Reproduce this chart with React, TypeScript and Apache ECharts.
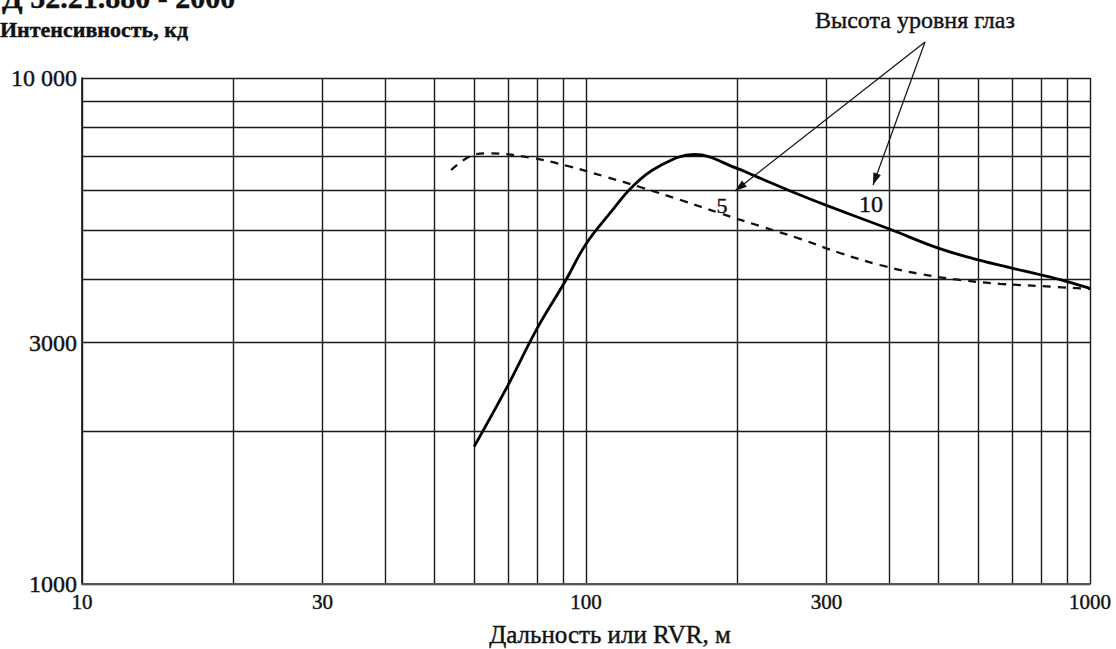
import React, { useEffect, useRef } from "react";
import * as echarts from "echarts";

// Axis ticks and labels (log scales)
const DIST_TICKS = [10, 20, 30, 40, 50, 60, 70, 80, 90, 100, 200, 300, 400, 500, 600, 700, 800, 900, 1000];
const DIST_LABELS = [10, 30, 100, 300, 1000];
const INTENSITY_TICKS = [1000, 2000, 3000, 4000, 5000, 6000, 7000, 8000, 9000, 10000];
const INTENSITY_LABELS = [1000, 3000, 10000];

// Eye height 10 m (solid curve): distance, m / intensity, cd
const EYE10_DIST = [60, 70, 80, 91, 100, 112, 124, 140, 164, 200, 215, 266, 300, 400, 500, 600, 700, 800, 900, 1000];
const EYE10_CD = [1870, 2470, 3200, 3970, 4700, 5430, 6120, 6700, 7060, 6620, 6420, 5870, 5600, 5030, 4610, 4370, 4210, 4080, 3960, 3840];

// Eye height 5 m (dashed curve)
const EYE5_DIST = [54, 59, 64, 78, 92, 110, 128, 154, 184, 221, 266, 319, 383, 460, 552, 663, 796, 1000];
const EYE5_CD = [6580, 7010, 7100, 6950, 6700, 6370, 6090, 5740, 5410, 5100, 4810, 4510, 4270, 4100, 3990, 3920, 3880, 3830];

const DOC_TITLE = "Д 52.21.880 - 2000";
const Y_TITLE = "Интенсивность, кд";
const X_TITLE = "Дальность или RVR, м";
const EYE_TITLE = "Высота уровня глаз";
const CURVE_NAMES = ["5", "10"];

const SERIF = '"Liberation Serif", "Times New Roman", serif';
const INK = "#111";

function arrowHead(ox: number, oy: number, tx: number, ty: number, len: number, half: number) {
  const dx = tx - ox;
  const dy = ty - oy;
  const l = Math.hypot(dx, dy);
  const ux = dx / l;
  const uy = dy / l;
  const bx = tx - ux * len;
  const by = ty - uy * len;
  return [
    [tx, ty],
    [bx - uy * half, by + ux * half],
    [bx + uy * half, by - ux * half],
  ];
}

function label(text: string, x: number, y: number, font: string, align = "left") {
  return {
    type: "text",
    x,
    y,
    z: 10,
    style: {
      text,
      font,
      fill: INK,
      stroke: INK,
      lineWidth: 0.4,
      align,
      verticalAlign: "middle",
    },
  };
}

export default function App() {
  const ref = useRef<HTMLDivElement | null>(null);

  useEffect(() => {
    document.body.style.margin = "0";
    if (!ref.current) return;
    const chart = echarts.init(ref.current, undefined, { renderer: "svg" });

    const origin = [925, 42];
    const tip5 = [735, 191];
    const tip10 = [873, 185];

    const tickLabel = {
      fontFamily: SERIF,
      color: INK,
      textBorderColor: INK,
      textBorderWidth: 0.4,
    };

    chart.setOption({
      animation: false,
      backgroundColor: "#ffffff",
      textStyle: { fontFamily: SERIF },
      grid: { left: 82, right: 26, top: 78, bottom: 65, containLabel: false },
      xAxis: {
        type: "log",
        logBase: 10,
        min: 10,
        max: 1000,
        axisLine: { show: true, lineStyle: { color: "#555", width: 2 } },
        axisTick: { show: false, customValues: DIST_TICKS },
        axisLabel: {
          ...tickLabel,
          customValues: DIST_LABELS,
          fontSize: 21,
          margin: 7,
          formatter: (v: number) => String(v),
        },
        splitLine: { show: true, lineStyle: { color: "#1a1a1a", width: 1.4 } },
      },
      yAxis: {
        type: "log",
        logBase: 10,
        min: 1000,
        max: 10000,
        axisLine: { show: true, lineStyle: { color: "#1a1a1a", width: 1.6 } },
        axisTick: { show: false, customValues: INTENSITY_TICKS },
        axisLabel: {
          ...tickLabel,
          customValues: INTENSITY_LABELS,
          fontSize: 24,
          margin: 5,
          formatter: (v: number) => (v === 10000 ? "10 000" : String(v)),
        },
        splitLine: { show: true, lineStyle: { color: "#1a1a1a", width: 1.4 } },
      },
      series: [
        {
          name: CURVE_NAMES[1],
          type: "line",
          data: EYE10_DIST.map((d, i) => [d, EYE10_CD[i]]),
          symbol: "none",
          smooth: 0.4,
          lineStyle: { color: "#000", width: 2.8 },
          z: 4,
        },
        {
          name: CURVE_NAMES[0],
          type: "line",
          data: EYE5_DIST.map((d, i) => [d, EYE5_CD[i]]),
          symbol: "none",
          smooth: 0.4,
          lineStyle: { color: "#111", width: 2.3, type: [8, 7] },
          z: 3,
        },
      ],
      graphic: [
        label(DOC_TITLE, 2, -3, `bold 30px ${SERIF}`),
        label(Y_TITLE, 0, 29, `bold 22px ${SERIF}`),
        label(EYE_TITLE, 915, 20, `24px ${SERIF}`, "center"),
        label(X_TITLE, 610, 634, `25px ${SERIF}`, "center"),
        label(CURVE_NAMES[0], 722, 205, `22px ${SERIF}`, "center"),
        label(CURVE_NAMES[1], 871, 204, `24px ${SERIF}`, "center"),
        {
          type: "line",
          shape: { x1: origin[0], y1: origin[1], x2: tip5[0], y2: tip5[1] },
          style: { stroke: INK, lineWidth: 1.2 },
          z: 10,
        },
        {
          type: "line",
          shape: { x1: origin[0], y1: origin[1], x2: tip10[0], y2: tip10[1] },
          style: { stroke: INK, lineWidth: 1.2 },
          z: 10,
        },
        {
          type: "polygon",
          shape: { points: arrowHead(origin[0], origin[1], tip5[0], tip5[1], 12, 4) },
          style: { fill: INK },
          z: 10,
        },
        {
          type: "polygon",
          shape: { points: arrowHead(origin[0], origin[1], tip10[0], tip10[1], 12, 4) },
          style: { fill: INK },
          z: 10,
        },
      ],
    });

    return () => chart.dispose();
  }, []);

  return <div ref={ref} style={{ width: 1116, height: 649 }} />;
}
